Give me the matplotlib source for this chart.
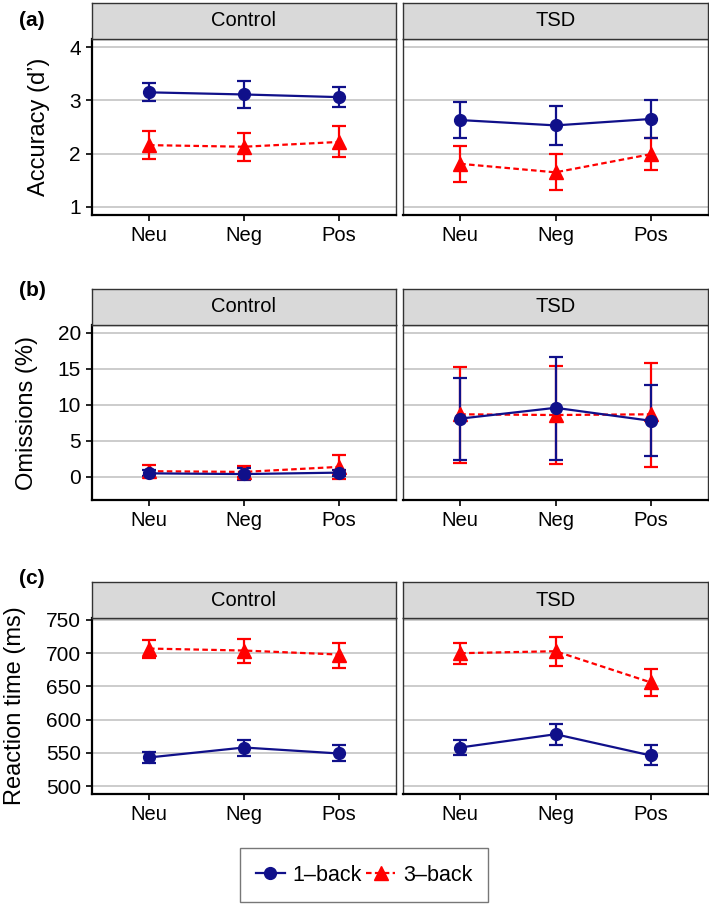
import numpy as np
import matplotlib

matplotlib.use("Agg")
import matplotlib.pyplot as plt
from matplotlib.lines import Line2D

plt.rcParams["font.family"] = ["Liberation Sans", "DejaVu Sans"]

W, H = 709, 905

conditions = ["Neu", "Neg", "Pos"]
groups = ["Control", "TSD"]

# (a) accuracy d'
acc_1back = {"Control": [3.15, 3.11, 3.06], "TSD": [2.63, 2.53, 2.65]}
acc_1back_lo = {"Control": [2.98, 2.85, 2.87], "TSD": [2.30, 2.17, 2.30]}
acc_1back_hi = {"Control": [3.32, 3.37, 3.25], "TSD": [2.96, 2.89, 3.00]}
acc_3back = {"Control": [2.16, 2.13, 2.22], "TSD": [1.81, 1.65, 1.99]}
acc_3back_lo = {"Control": [1.90, 1.87, 1.93], "TSD": [1.46, 1.31, 1.69]}
acc_3back_hi = {"Control": [2.42, 2.39, 2.51], "TSD": [2.15, 1.99, 2.29]}

# (b) omissions %
om_1back = {"Control": [0.5, 0.4, 0.6], "TSD": [8.1, 9.6, 7.8]}
om_1back_lo = {"Control": [0.1, -0.4, 0.2], "TSD": [2.4, 2.4, 2.9]}
om_1back_hi = {"Control": [0.9, 1.3, 1.0], "TSD": [13.7, 16.7, 12.7]}
om_3back = {"Control": [0.8, 0.7, 1.4], "TSD": [8.7, 8.6, 8.7]}
om_3back_lo = {"Control": [0.1, 0.0, -0.3], "TSD": [2.0, 1.8, 1.4]}
om_3back_hi = {"Control": [1.6, 1.5, 3.1], "TSD": [15.3, 15.4, 15.8]}

# (c) reaction time ms
rt_1back = {"Control": [543, 558, 549], "TSD": [558, 578, 546]}
rt_1back_lo = {"Control": [535, 545, 537], "TSD": [547, 562, 531]}
rt_1back_hi = {"Control": [551, 570, 562], "TSD": [570, 594, 562]}
rt_3back = {"Control": [707, 704, 698], "TSD": [700, 703, 656]}
rt_3back_lo = {"Control": [693, 685, 678], "TSD": [683, 681, 635]}
rt_3back_hi = {"Control": [720, 721, 715], "TSD": [715, 724, 676]}

# letter, y label, y ticks, y limits, 1-back, 3-back, plot top/bottom px, letter y px
rows = [
    ("(a)", "Accuracy (d\u2019)", [1, 2, 3, 4], (0.85, 4.15),
     (acc_1back, acc_1back_lo, acc_1back_hi), (acc_3back, acc_3back_lo, acc_3back_hi),
     (39, 215), 20),
    ("(b)", "Omissions (%)", [0, 5, 10, 15, 20], (-3.2, 21.1),
     (om_1back, om_1back_lo, om_1back_hi), (om_3back, om_3back_lo, om_3back_hi),
     (325, 500), 291),
    ("(c)", "Reaction time (ms)", [500, 550, 600, 650, 700, 750], (488, 753),
     (rt_1back, rt_1back_lo, rt_1back_hi), (rt_3back, rt_3back_lo, rt_3back_hi),
     (618, 794), 579),
]

BLUE = "#10108A"
RED = "#FF0000"
DASH = (0, (2.5, 1.5))
STRIP_H = 36
cols_px = [(92, 396), (403, 708)]


def px_rect(x0, x1, ytop, ybot):
    return [x0 / W, (H - ybot) / H, (x1 - x0) / W, (ybot - ytop) / H]


fig = plt.figure(figsize=(W / 100, H / 100), dpi=100)
x = np.arange(1, 4)

for letter, ylabel, yticks, ylim, s1, s3, (ytop, ybot), ylet in rows:
    for gi, g in enumerate(groups):
        x0, x1 = cols_px[gi]
        ax = fig.add_axes(px_rect(x0, x1, ytop, ybot))
        # facet strip
        sax = fig.add_axes(px_rect(x0, x1, ytop - STRIP_H, ytop))
        sax.set_facecolor("#D9D9D9")
        sax.set_xticks([]); sax.set_yticks([])
        for sp in sax.spines.values():
            sp.set_color("#333333"); sp.set_linewidth(1.0)
        sax.text(0.5, 0.5, g, ha="center", va="center", fontsize=14.5, transform=sax.transAxes)

        for (m, lo, hi), col, mk, ls, ms in ((s3, RED, "^", DASH, 9.5),
                                             (s1, BLUE, "o", "-", 8.5)):
            mv = np.array(m[g]); lv = np.array(lo[g]); hv = np.array(hi[g])
            ax.errorbar(x, mv, yerr=[mv - lv, hv - mv], color=col, lw=1.6, ls=ls,
                        marker=mk, ms=ms, capsize=5, capthick=1.6, elinewidth=1.6, zorder=3)

        ax.set_xlim(0.4, 3.6)
        ax.set_ylim(*ylim)
        ax.set_xticks(x)
        ax.set_xticklabels(conditions, fontsize=14.5)
        ax.set_yticks(yticks)
        ax.yaxis.grid(True, color="#C4C4C4", lw=1.2)
        ax.set_axisbelow(True)
        ax.tick_params(length=4, width=1.2, color="black", pad=4)
        for sp in ("top", "right"):
            ax.spines[sp].set_color("#333333"); ax.spines[sp].set_linewidth(1.0)
        ax.spines["bottom"].set_linewidth(1.6)
        if gi == 0:
            ax.spines["left"].set_linewidth(1.6)
            ax.set_yticklabels([str(t) for t in yticks], fontsize=15)
            ax.set_ylabel(ylabel, fontsize=17, labelpad=14)
        else:
            ax.spines["left"].set_color("#333333"); ax.spines["left"].set_linewidth(1.0)
            ax.tick_params(axis="y", left=False, labelleft=False)

    fig.text(19 / W, 1 - ylet / H, letter, ha="left", va="center",
             fontsize=15, fontweight="bold")

handles = [
    Line2D([], [], color=BLUE, lw=1.6, marker="o", ms=8.5),
    Line2D([], [], color=RED, lw=1.6, ls=DASH, marker="^", ms=9.5),
]
leg = fig.legend(handles, ["1\u2013back", "3\u2013back"], loc="center",
                 bbox_to_anchor=(364 / W, 1 - 875 / H), ncol=2, fontsize=15.5,
                 frameon=True, fancybox=False, edgecolor="#555555", handlelength=1.35,
                 columnspacing=0.2, handletextpad=0.35, borderpad=0.75,
                 borderaxespad=0)
leg.get_frame().set_linewidth(1.0)

fig.savefig("out.png", dpi=100)
